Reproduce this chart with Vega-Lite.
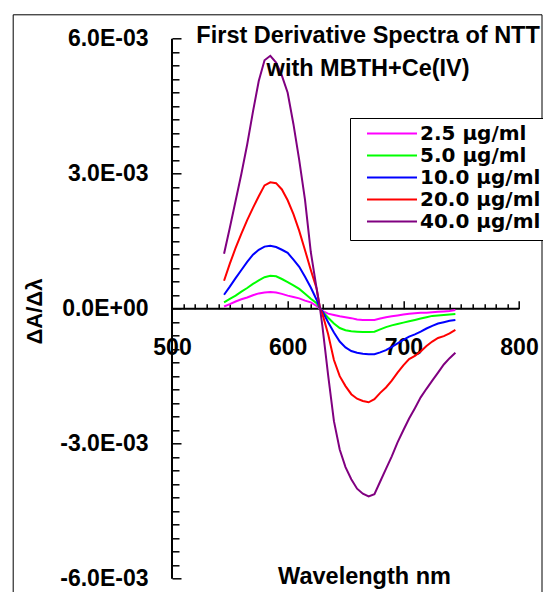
{
  "$schema": "https://vega.github.io/schema/vega-lite/v6.json",
  "autosize": {"type": "none"},
  "padding": {"left": 12.7, "top": 14.3, "right": 1.5, "bottom": 0},
  "width": 528.8,
  "height": 577.7,
  "background": "white",
  "config": {
    "view": {"stroke": "black", "strokeWidth": 1},
    "font": "Liberation Sans"
  },
  "title": {
    "text": ["First Derivative Spectra of NTT", "with MBTH+Ce(IV)"],
    "font": "Liberation Sans",
    "fontSize": 23.5,
    "fontWeight": "bold",
    "color": "black",
    "anchor": "middle",
    "frame": "group",
    "baseline": "top",
    "lineHeight": 33,
    "offset": -66,
    "dx": 91
  },
  "data": {
    "values": [
      {"wl":545,"s":"2.5 μg/ml","v":0.00005},{"wl":545,"s":"5.0 μg/ml","v":0.00014},{"wl":545,"s":"10.0 μg/ml","v":0.00031},{"wl":545,"s":"20.0 μg/ml","v":0.00062},{"wl":545,"s":"40.0 μg/ml","v":0.00122},
      {"wl":550,"s":"2.5 μg/ml","v":0.00010},{"wl":550,"s":"5.0 μg/ml","v":0.00022},{"wl":550,"s":"10.0 μg/ml","v":0.00049},{"wl":550,"s":"20.0 μg/ml","v":0.00100},{"wl":550,"s":"40.0 μg/ml","v":0.00180},
      {"wl":555,"s":"2.5 μg/ml","v":0.00016},{"wl":555,"s":"5.0 μg/ml","v":0.00029},{"wl":555,"s":"10.0 μg/ml","v":0.00068},{"wl":555,"s":"20.0 μg/ml","v":0.00135},{"wl":555,"s":"40.0 μg/ml","v":0.00240},
      {"wl":560,"s":"2.5 μg/ml","v":0.00021},{"wl":560,"s":"5.0 μg/ml","v":0.00038},{"wl":560,"s":"10.0 μg/ml","v":0.00086},{"wl":560,"s":"20.0 μg/ml","v":0.00167},{"wl":560,"s":"40.0 μg/ml","v":0.00300},
      {"wl":565,"s":"2.5 μg/ml","v":0.00025},{"wl":565,"s":"5.0 μg/ml","v":0.00046},{"wl":565,"s":"10.0 μg/ml","v":0.00104},{"wl":565,"s":"20.0 μg/ml","v":0.00197},{"wl":565,"s":"40.0 μg/ml","v":0.00365},
      {"wl":570,"s":"2.5 μg/ml","v":0.00030},{"wl":570,"s":"5.0 μg/ml","v":0.00055},{"wl":570,"s":"10.0 μg/ml","v":0.00120},{"wl":570,"s":"20.0 μg/ml","v":0.00224},{"wl":570,"s":"40.0 μg/ml","v":0.00438},
      {"wl":575,"s":"2.5 μg/ml","v":0.00034},{"wl":575,"s":"5.0 μg/ml","v":0.00063},{"wl":575,"s":"10.0 μg/ml","v":0.00131},{"wl":575,"s":"20.0 μg/ml","v":0.00250},{"wl":575,"s":"40.0 μg/ml","v":0.00506},
      {"wl":580,"s":"2.5 μg/ml","v":0.00036},{"wl":580,"s":"5.0 μg/ml","v":0.00070},{"wl":580,"s":"10.0 μg/ml","v":0.00138},{"wl":580,"s":"20.0 μg/ml","v":0.00274},{"wl":580,"s":"40.0 μg/ml","v":0.00552},
      {"wl":585,"s":"2.5 μg/ml","v":0.00037},{"wl":585,"s":"5.0 μg/ml","v":0.00073},{"wl":585,"s":"10.0 μg/ml","v":0.00140},{"wl":585,"s":"20.0 μg/ml","v":0.00281},{"wl":585,"s":"40.0 μg/ml","v":0.00562},
      {"wl":590,"s":"2.5 μg/ml","v":0.00036},{"wl":590,"s":"5.0 μg/ml","v":0.00072},{"wl":590,"s":"10.0 μg/ml","v":0.00137},{"wl":590,"s":"20.0 μg/ml","v":0.00279},{"wl":590,"s":"40.0 μg/ml","v":0.00547},
      {"wl":595,"s":"2.5 μg/ml","v":0.00033},{"wl":595,"s":"5.0 μg/ml","v":0.00066},{"wl":595,"s":"10.0 μg/ml","v":0.00131},{"wl":595,"s":"20.0 μg/ml","v":0.00265},{"wl":595,"s":"40.0 μg/ml","v":0.00518},
      {"wl":600,"s":"2.5 μg/ml","v":0.00029},{"wl":600,"s":"5.0 μg/ml","v":0.00059},{"wl":600,"s":"10.0 μg/ml","v":0.00124},{"wl":600,"s":"20.0 μg/ml","v":0.00241},{"wl":600,"s":"40.0 μg/ml","v":0.00480},
      {"wl":605,"s":"2.5 μg/ml","v":0.00026},{"wl":605,"s":"5.0 μg/ml","v":0.00052},{"wl":605,"s":"10.0 μg/ml","v":0.00109},{"wl":605,"s":"20.0 μg/ml","v":0.00210},{"wl":605,"s":"40.0 μg/ml","v":0.00410},
      {"wl":610,"s":"2.5 μg/ml","v":0.00023},{"wl":610,"s":"5.0 μg/ml","v":0.00044},{"wl":610,"s":"10.0 μg/ml","v":0.00093},{"wl":610,"s":"20.0 μg/ml","v":0.00173},{"wl":610,"s":"40.0 μg/ml","v":0.00330},
      {"wl":615,"s":"2.5 μg/ml","v":0.00018},{"wl":615,"s":"5.0 μg/ml","v":0.00033},{"wl":615,"s":"10.0 μg/ml","v":0.00071},{"wl":615,"s":"20.0 μg/ml","v":0.00130},{"wl":615,"s":"40.0 μg/ml","v":0.00242},
      {"wl":620,"s":"2.5 μg/ml","v":0.00014},{"wl":620,"s":"5.0 μg/ml","v":0.00022},{"wl":620,"s":"10.0 μg/ml","v":0.00047},{"wl":620,"s":"20.0 μg/ml","v":0.00086},{"wl":620,"s":"40.0 μg/ml","v":0.00126},
      {"wl":625,"s":"2.5 μg/ml","v":0.00006},{"wl":625,"s":"5.0 μg/ml","v":0.00012},{"wl":625,"s":"10.0 μg/ml","v":0.00020},{"wl":625,"s":"20.0 μg/ml","v":0.00045},{"wl":625,"s":"40.0 μg/ml","v":0.00045},
      {"wl":628,"s":"2.5 μg/ml","v":0},{"wl":628,"s":"5.0 μg/ml","v":0},{"wl":628,"s":"10.0 μg/ml","v":0},{"wl":628,"s":"20.0 μg/ml","v":0},{"wl":628,"s":"40.0 μg/ml","v":0},
      {"wl":630,"s":"2.5 μg/ml","v":-0.00005},{"wl":630,"s":"5.0 μg/ml","v":-0.00006},{"wl":630,"s":"10.0 μg/ml","v":-0.00006},{"wl":630,"s":"20.0 μg/ml","v":-0.00011},{"wl":630,"s":"40.0 μg/ml","v":-0.00038},
      {"wl":635,"s":"2.5 μg/ml","v":-0.00011},{"wl":635,"s":"5.0 μg/ml","v":-0.00020},{"wl":635,"s":"10.0 μg/ml","v":-0.00030},{"wl":635,"s":"20.0 μg/ml","v":-0.00057},{"wl":635,"s":"40.0 μg/ml","v":-0.00148},
      {"wl":640,"s":"2.5 μg/ml","v":-0.00014},{"wl":640,"s":"5.0 μg/ml","v":-0.00033},{"wl":640,"s":"10.0 μg/ml","v":-0.00053},{"wl":640,"s":"20.0 μg/ml","v":-0.00114},{"wl":640,"s":"40.0 μg/ml","v":-0.00250},
      {"wl":645,"s":"2.5 μg/ml","v":-0.00017},{"wl":645,"s":"5.0 μg/ml","v":-0.00043},{"wl":645,"s":"10.0 μg/ml","v":-0.00073},{"wl":645,"s":"20.0 μg/ml","v":-0.00150},{"wl":645,"s":"40.0 μg/ml","v":-0.00313},
      {"wl":650,"s":"2.5 μg/ml","v":-0.00019},{"wl":650,"s":"5.0 μg/ml","v":-0.00048},{"wl":650,"s":"10.0 μg/ml","v":-0.00086},{"wl":650,"s":"20.0 μg/ml","v":-0.00172},{"wl":650,"s":"40.0 μg/ml","v":-0.00352},
      {"wl":655,"s":"2.5 μg/ml","v":-0.00021},{"wl":655,"s":"5.0 μg/ml","v":-0.00050},{"wl":655,"s":"10.0 μg/ml","v":-0.00094},{"wl":655,"s":"20.0 μg/ml","v":-0.00190},{"wl":655,"s":"40.0 μg/ml","v":-0.00379},
      {"wl":660,"s":"2.5 μg/ml","v":-0.00024},{"wl":660,"s":"5.0 μg/ml","v":-0.00051},{"wl":660,"s":"10.0 μg/ml","v":-0.00098},{"wl":660,"s":"20.0 μg/ml","v":-0.00200},{"wl":660,"s":"40.0 μg/ml","v":-0.00400},
      {"wl":665,"s":"2.5 μg/ml","v":-0.00025},{"wl":665,"s":"5.0 μg/ml","v":-0.00052},{"wl":665,"s":"10.0 μg/ml","v":-0.00100},{"wl":665,"s":"20.0 μg/ml","v":-0.00205},{"wl":665,"s":"40.0 μg/ml","v":-0.00411},
      {"wl":670,"s":"2.5 μg/ml","v":-0.00025},{"wl":670,"s":"5.0 μg/ml","v":-0.00052},{"wl":670,"s":"10.0 μg/ml","v":-0.00101},{"wl":670,"s":"20.0 μg/ml","v":-0.00208},{"wl":670,"s":"40.0 μg/ml","v":-0.00417},
      {"wl":675,"s":"2.5 μg/ml","v":-0.00025},{"wl":675,"s":"5.0 μg/ml","v":-0.00051},{"wl":675,"s":"10.0 μg/ml","v":-0.00101},{"wl":675,"s":"20.0 μg/ml","v":-0.00201},{"wl":675,"s":"40.0 μg/ml","v":-0.00412},
      {"wl":680,"s":"2.5 μg/ml","v":-0.00022},{"wl":680,"s":"5.0 μg/ml","v":-0.00046},{"wl":680,"s":"10.0 μg/ml","v":-0.00097},{"wl":680,"s":"20.0 μg/ml","v":-0.00187},{"wl":680,"s":"40.0 μg/ml","v":-0.00384},
      {"wl":685,"s":"2.5 μg/ml","v":-0.00019},{"wl":685,"s":"5.0 μg/ml","v":-0.00041},{"wl":685,"s":"10.0 μg/ml","v":-0.00092},{"wl":685,"s":"20.0 μg/ml","v":-0.00175},{"wl":685,"s":"40.0 μg/ml","v":-0.00356},
      {"wl":690,"s":"2.5 μg/ml","v":-0.00017},{"wl":690,"s":"5.0 μg/ml","v":-0.00037},{"wl":690,"s":"10.0 μg/ml","v":-0.00085},{"wl":690,"s":"20.0 μg/ml","v":-0.00160},{"wl":690,"s":"40.0 μg/ml","v":-0.00328},
      {"wl":695,"s":"2.5 μg/ml","v":-0.00015},{"wl":695,"s":"5.0 μg/ml","v":-0.00034},{"wl":695,"s":"10.0 μg/ml","v":-0.00077},{"wl":695,"s":"20.0 μg/ml","v":-0.00142},{"wl":695,"s":"40.0 μg/ml","v":-0.00297},
      {"wl":700,"s":"2.5 μg/ml","v":-0.00013},{"wl":700,"s":"5.0 μg/ml","v":-0.00031},{"wl":700,"s":"10.0 μg/ml","v":-0.00069},{"wl":700,"s":"20.0 μg/ml","v":-0.00126},{"wl":700,"s":"40.0 μg/ml","v":-0.00270},
      {"wl":705,"s":"2.5 μg/ml","v":-0.00011},{"wl":705,"s":"5.0 μg/ml","v":-0.00028},{"wl":705,"s":"10.0 μg/ml","v":-0.00062},{"wl":705,"s":"20.0 μg/ml","v":-0.00112},{"wl":705,"s":"40.0 μg/ml","v":-0.00244},
      {"wl":710,"s":"2.5 μg/ml","v":-0.00010},{"wl":710,"s":"5.0 μg/ml","v":-0.00025},{"wl":710,"s":"10.0 μg/ml","v":-0.00057},{"wl":710,"s":"20.0 μg/ml","v":-0.00105},{"wl":710,"s":"40.0 μg/ml","v":-0.00221},
      {"wl":715,"s":"2.5 μg/ml","v":-0.00009},{"wl":715,"s":"5.0 μg/ml","v":-0.00022},{"wl":715,"s":"10.0 μg/ml","v":-0.00051},{"wl":715,"s":"20.0 μg/ml","v":-0.00095},{"wl":715,"s":"40.0 μg/ml","v":-0.00197},
      {"wl":720,"s":"2.5 μg/ml","v":-0.00009},{"wl":720,"s":"5.0 μg/ml","v":-0.00019},{"wl":720,"s":"10.0 μg/ml","v":-0.00044},{"wl":720,"s":"20.0 μg/ml","v":-0.00083},{"wl":720,"s":"40.0 μg/ml","v":-0.00178},
      {"wl":725,"s":"2.5 μg/ml","v":-0.00008},{"wl":725,"s":"5.0 μg/ml","v":-0.00016},{"wl":725,"s":"10.0 μg/ml","v":-0.00038},{"wl":725,"s":"20.0 μg/ml","v":-0.00073},{"wl":725,"s":"40.0 μg/ml","v":-0.00160},
      {"wl":730,"s":"2.5 μg/ml","v":-0.00007},{"wl":730,"s":"5.0 μg/ml","v":-0.00015},{"wl":730,"s":"10.0 μg/ml","v":-0.00033},{"wl":730,"s":"20.0 μg/ml","v":-0.00065},{"wl":730,"s":"40.0 μg/ml","v":-0.00142},
      {"wl":735,"s":"2.5 μg/ml","v":-0.00006},{"wl":735,"s":"5.0 μg/ml","v":-0.00014},{"wl":735,"s":"10.0 μg/ml","v":-0.00030},{"wl":735,"s":"20.0 μg/ml","v":-0.00061},{"wl":735,"s":"40.0 μg/ml","v":-0.00124},
      {"wl":740,"s":"2.5 μg/ml","v":-0.00005},{"wl":740,"s":"5.0 μg/ml","v":-0.00013},{"wl":740,"s":"10.0 μg/ml","v":-0.00027},{"wl":740,"s":"20.0 μg/ml","v":-0.00055},{"wl":740,"s":"40.0 μg/ml","v":-0.00110},
      {"wl":745,"s":"2.5 μg/ml","v":-0.00003},{"wl":745,"s":"5.0 μg/ml","v":-0.00012},{"wl":745,"s":"10.0 μg/ml","v":-0.00025},{"wl":745,"s":"20.0 μg/ml","v":-0.00047},{"wl":745,"s":"40.0 μg/ml","v":-0.00098}
    ]
  },
  "layer": [
    {
      "data": {"values": [{"wl": 500, "wl2": 800, "v": 0}]},
      "mark": {"type": "rule", "color": "black", "strokeWidth": 2},
      "encoding": {
        "x": {"field": "wl", "type": "quantitative"},
        "x2": {"field": "wl2"},
        "y": {"field": "v", "type": "quantitative"}
      }
    },
    {
      "data": {"values": [{"wl": 500, "v": -0.006, "v2": 0.006}]},
      "mark": {"type": "rule", "color": "black", "strokeWidth": 2},
      "encoding": {
        "x": {"field": "wl", "type": "quantitative"},
        "y": {"field": "v", "type": "quantitative"},
        "y2": {"field": "v2"}
      }
    },
    {
      "mark": {"type": "line", "strokeWidth": 2},
      "encoding": {
        "x": {
          "field": "wl",
          "type": "quantitative",
          "scale": {"domain": [362.28, 819.45], "nice": false, "zero": false},
          "axis": {
            "orient": "bottom",
            "offset": -283.3,
            "domain": false,
            "grid": false,
            "tickCount": 100,
            "values": [500,510,520,530,540,550,560,570,580,590,600,610,620,630,640,650,660,670,680,690,700,710,720,730,740,750,760,770,780,790,800],
            "labelExpr": "datum.value % 100 === 0 ? '' + datum.value : ''",
            "tickSize": {"condition": {"test": "datum.value % 100 === 0", "value": -8}, "value": -5},
            "tickWidth": 1.5,
            "tickColor": "black",
            "labelFont": "Liberation Sans",
            "labelFontSize": 23,
            "labelFontWeight": "bold",
            "labelColor": "black",
            "labelBaseline": "top",
            "labelPadding": 36,
            "labelOverlap": false,
            "labelFlush": false,
            "labelBound": false,
            "title": "Wavelength nm",
            "titleFont": "Liberation Sans",
            "titleFontSize": 23.5,
            "titleFontWeight": "bold",
            "titleColor": "black",
            "titleX": 351.3,
            "titleY": 274.3,
            "titleBaseline": "alphabetic",
            "titleAlign": "center"
          }
        },
        "y": {
          "field": "v",
          "type": "quantitative",
          "scale": {"domain": [-0.0062956, 0.0065422], "nice": false, "zero": false},
          "axis": {
            "orient": "left",
            "offset": -159.3,
            "domain": false,
            "grid": false,
            "tickCount": 100,
            "values": [-0.006,-0.0057,-0.0054,-0.0051,-0.0048,-0.0045,-0.0042,-0.0039,-0.0036,-0.0033,-0.003,-0.0027,-0.0024,-0.0021,-0.0018,-0.0015,-0.0012,-0.0009,-0.0006,-0.0003,0,0.0003,0.0006,0.0009,0.0012,0.0015,0.0018,0.0021,0.0024,0.0027,0.003,0.0033,0.0036,0.0039,0.0042,0.0045,0.0048,0.0051,0.0054,0.0057,0.006],
            "labelExpr": "abs(datum.value-0.006)<1e-7 ? '6.0E-03' : abs(datum.value-0.003)<1e-7 ? '3.0E-03' : abs(datum.value)<1e-7 ? '0.0E+00' : abs(datum.value+0.003)<1e-7 ? '-3.0E-03' : abs(datum.value+0.006)<1e-7 ? '-6.0E-03' : ''",
            "tickSize": {"condition": {"test": "abs(datum.value/0.003 - round(datum.value/0.003)) < 1e-6", "value": -9}, "value": -7},
            "tickWidth": 1.5,
            "tickColor": "black",
            "labelFont": "Liberation Sans",
            "labelFontSize": 23,
            "labelFontWeight": "bold",
            "labelColor": "black",
            "labelPadding": 33,
            "labelOverlap": false,
            "labelFlush": false,
            "labelBound": false,
            "title": "ΔA/Δλ",
            "titleFont": "Liberation Sans",
            "titleFontSize": 22,
            "titleFontWeight": "bold",
            "titleColor": "black",
            "titleAngle": -90,
            "titleX": -130.5,
            "titleY": 296.7,
            "titleBaseline": "alphabetic",
            "titleAlign": "center"
          }
        },
        "color": {
          "field": "s",
          "type": "nominal",
          "scale": {
            "domain": ["2.5 μg/ml", "5.0 μg/ml", "10.0 μg/ml", "20.0 μg/ml", "40.0 μg/ml"],
            "range": ["#FF00FF", "#00FF00", "#0000FF", "#FF0000", "#800080"]
          },
          "legend": {
            "orient": "none",
            "legendX": 337.3,
            "legendY": 103.7,
            "title": null,
            "symbolType": "stroke",
            "symbolSize": 2500,
            "symbolStrokeWidth": 2,
            "clipHeight": 15,
            "rowPadding": 1,
            "padding": 8,
            "symbolOffset": 8,
            "labelOffset": 2,
            "labelFont": "DejaVu Sans",
            "labelFontSize": 20,
            "labelFontWeight": "bold",
            "labelColor": "black",
            "labelLimit": 0,
            "strokeColor": "black",
            "fillColor": "white"
          }
        }
      }
    }
  ]
}
